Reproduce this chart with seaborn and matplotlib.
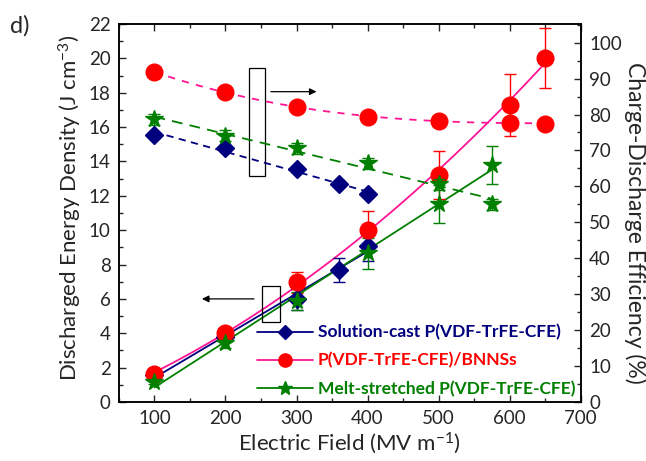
import numpy as np
import pandas as pd
import seaborn as sns
import matplotlib
matplotlib.use("Agg")
import matplotlib.pyplot as plt
from matplotlib.lines import Line2D
from matplotlib.patches import Rectangle
from matplotlib.ticker import MultipleLocator

# ---- data -------------------------------------------------------------
# Solution-cast P(VDF-TrFE-CFE)
cast_field = [100, 200, 300, 360, 400]
cast_energy = [1.57, 3.8, 5.98, 7.68, 9.08]
cast_energy_err = [0.15, 0.2, 0.6, 0.7, 0.9]
cast_eff = [74.3, 70.6, 64.8, 60.6, 57.9]
cast_eff_err = [0.8, 0.8, 0.8, 0.8, 0.8]

# P(VDF-TrFE-CFE)/BNNSs
bn_field = [100, 200, 300, 400, 500, 600, 650]
bn_energy = [1.63, 4.03, 6.97, 10.01, 13.21, 17.3, 20.04]
bn_energy_err = [0.15, 0.2, 0.6, 1.1, 1.4, 1.8, 1.75]
bn_eff = [91.8, 86.2, 82.2, 79.3, 78.3, 77.7, 77.5]
bn_eff_err = [1.2, 1.0, 0.8, 0.8, 0.8, 0.8, 0.8]

# Melt-stretched P(VDF-TrFE-CFE)
melt_field = [100, 200, 300, 400, 500, 575]
melt_energy = [1.18, 3.41, 5.88, 8.66, 11.51, 13.8]
melt_energy_err = [0.15, 0.25, 0.5, 0.9, 1.1, 1.1]
melt_eff = [78.7, 74.1, 70.6, 66.4, 60.6, 55.0]
melt_eff_err = [1.5, 1.5, 1.5, 1.5, 1.5, 1.5]

labels = ["Solution-cast P(VDF-TrFE-CFE)",
          "P(VDF-TrFE-CFE)/BNNSs",
          "Melt-stretched P(VDF-TrFE-CFE)"]

# ---- style ------------------------------------------------------------
sns.set_style("ticks")
plt.rcParams["font.family"] = ["Lato", "DejaVu Sans"]
plt.rcParams["mathtext.default"] = "regular"

NAVY = "#00007F"
RED = "#FF0000"
PINK = "#FF1493"
GREEN = "#007F00"

fig = plt.figure(figsize=(6.46, 4.61), dpi=100)
ax = fig.add_axes([0.184, 0.128, 0.715, 0.820])
ax2 = ax.twinx()

series = [
    dict(f=cast_field, e=cast_energy, ee=cast_energy_err, q=cast_eff, qe=cast_eff_err,
         mk="D", ms=9, mc=NAVY, lc=NAVY, eorder=1, qorder=1, qls=(0, (4, 3))),
    dict(f=bn_field, e=bn_energy, ee=bn_energy_err, q=bn_eff, qe=bn_eff_err,
         mk="o", ms=12, mc=RED, lc=PINK, eorder=2, qorder=3, qls=(0, (4, 4))),
    dict(f=melt_field, e=melt_energy, ee=melt_energy_err, q=melt_eff, qe=melt_eff_err,
         mk="*", ms=13, mc=GREEN, lc=GREEN, eorder=1, qorder=1, qls=(0, (6, 4))),
]

for s in series:
    df = pd.DataFrame({"field": s["f"], "energy": s["e"], "eff": s["q"]})
    # fitted trend lines
    sns.regplot(data=df, x="field", y="energy", order=s["eorder"], ci=None,
                scatter=False, truncate=True, ax=ax,
                line_kws=dict(color=s["lc"], lw=1.3))
    sns.regplot(data=df, x="field", y="eff", order=s["qorder"], ci=None,
                scatter=False, truncate=True, ax=ax2,
                line_kws=dict(color=s["lc"], lw=1.3, ls=s["qls"]))
    # markers with error bars
    ax.errorbar(s["f"], s["e"], yerr=s["ee"], fmt=s["mk"], ms=s["ms"],
                color=s["mc"], ecolor=s["mc"], elinewidth=1, capsize=4,
                capthick=1, zorder=5)
    ax2.errorbar(s["f"], s["q"], yerr=s["qe"], fmt=s["mk"], ms=s["ms"],
                 color=s["mc"], ecolor=s["mc"], elinewidth=1, capsize=4,
                 capthick=1, zorder=5)

# ---- axes -------------------------------------------------------------
ax.set_xlim(50, 700)
ax.set_ylim(0, 22)
ax2.set_ylim(0, 105.2)
ax.xaxis.set_major_locator(MultipleLocator(100))
ax.xaxis.set_minor_locator(MultipleLocator(50))
ax.yaxis.set_major_locator(MultipleLocator(2))
ax.yaxis.set_minor_locator(MultipleLocator(1))
ax2.yaxis.set_major_locator(MultipleLocator(10))
ax2.yaxis.set_minor_locator(MultipleLocator(5))

ax.tick_params(axis="both", which="both", direction="in", top=True,
               labelsize=13.5, width=1, pad=6)
ax.tick_params(which="major", length=5)
ax.tick_params(which="minor", length=3)
ax2.tick_params(axis="y", which="both", direction="in", labelsize=13.5,
                width=1, pad=6)
ax2.tick_params(which="major", length=5)
ax2.tick_params(which="minor", length=3)

for a in (ax, ax2):
    for sp in a.spines.values():
        sp.set_visible(True)
        sp.set_linewidth(1.1)
        sp.set_color("black")

ax.set_xlabel("Electric Field (MV m$^{-1}$)", fontsize=16, labelpad=2)
ax.set_ylabel("Discharged Energy Density (J cm$^{-3}$)", fontsize=16,
              va="center", ha="center")
ax.yaxis.set_label_coords(-0.104, 0.513)
ax2.set_ylabel("Charge-Discharge Efficiency (%)", fontsize=16.5, rotation=270,
               va="center", ha="center")
ax2.yaxis.set_label_coords(1.117, 0.474)

# ---- annotation boxes and arrows ---------------------------------------
ax.add_patch(Rectangle((252, 4.66), 25, 2.09, fill=False, ec="black", lw=0.9, zorder=3))
ax.annotate("", xy=(163, 6.0), xytext=(244, 6.0),
            arrowprops=dict(arrowstyle="-|>", color="black", lw=0.9,
                            mutation_scale=10))
ax.add_patch(Rectangle((232.5, 13.17), 23.5, 6.25, fill=False, ec="black", lw=0.9, zorder=3))
ax.annotate("", xy=(332, 18.06), xytext=(260, 18.06),
            arrowprops=dict(arrowstyle="-|>", color="black", lw=0.9,
                            mutation_scale=10))

# ---- legend ------------------------------------------------------------
handles = [
    Line2D([], [], color=NAVY, marker="D", ms=7.5, lw=1.3),
    Line2D([], [], color=PINK, marker="o", ms=9.5, mfc=RED, mec=RED, lw=1.3),
    Line2D([], [], color=GREEN, marker="*", ms=10, lw=1.3),
]
leg = ax2.legend(handles, labels, loc="lower right", frameon=False,
                 prop=dict(weight="bold", size=12.5), handlelength=3.2,
                 handletextpad=0.3, labelspacing=0.68, borderaxespad=0.0,
                 borderpad=0.3, bbox_to_anchor=(1.0, 0.0))
for txt, c in zip(leg.get_texts(), [NAVY, RED, GREEN]):
    txt.set_color(c)

fig.text(0.015, 0.945, "d)", fontsize=17, va="center", ha="left")

fig.savefig("out.png", dpi=100)
